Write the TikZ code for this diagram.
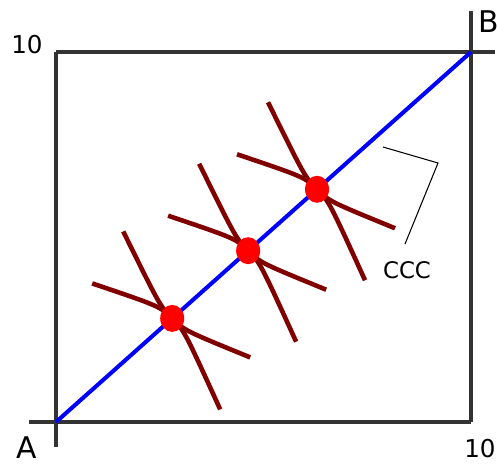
\documentclass[tikz,border=0pt]{standalone}
\usepackage{fontspec}
\setmainfont{DejaVu Sans}
\usetikzlibrary{shapes.geometric,calc}
\definecolor{maroon}{RGB}{128,0,0}

\begin{document}
\begin{tikzpicture}[
    x=0.02cm, y=-0.02cm,
    axis/.style={draw=black!80, line width=2pt},
    contract/.style={draw=blue, line width=2.3pt},
    indiff/.style={draw=maroon, line width=2.6pt},
    dot/.style={ellipse, fill=red, inner sep=0pt, minimum width=0.48cm, minimum height=0.54cm},
    leader/.style={draw=black, line width=0.6pt},
    tick/.style={font=\fontsize{14}{16}\selectfont},
    origin/.style={font=\fontsize{17}{19}\selectfont}
]
  \useasboundingbox (0,0) rectangle (497,464);

  % Origins
  \coordinate (oA) at (56,422);
  \coordinate (oB) at (471,52);

  % Box
  \draw[axis] (29,422) -- (oB |- oA);
  \draw[axis] (56,447) -- (oA |- oB);
  \draw[axis] (oA |- oB) -- (495,52);
  \draw[axis] (471,11) -- (oB |- oA);

  % Labels
  \node[tick] (ten1) at (27,45) {10};
  \node[tick] (ten2) at (480,449) {10};
  \node[origin] (lA) at (27,448) {A};
  \node[origin] (lB) at (489,22) {B};

  % Contract curve
  \draw[contract] (oA) -- (oB);

  % Tangency points
  \foreach \t [count=\i] in {0.28,0.463,0.629}
    \coordinate (c\i) at ($(oA)!\t!(oB)$);

  % Indifference curves
  \foreach \i in {1,2,3} {
    \draw[indiff] ($(c\i)+(-49,-87)$) .. controls ($(c\i)+(-12,-12)$) .. (c\i)
      .. controls ($(c\i)+(12,12)$) .. ($(c\i)+(78,39)$);
    \draw[indiff] ($(c\i)+(-80,-35)$) .. controls ($(c\i)+(-12,-12)$) .. (c\i)
      .. controls ($(c\i)+(12,12)$) .. ($(c\i)+(48,91)$);
    \node[dot] (p\i) at (c\i) {};
  }

  % CCC label
  \node[font=\fontsize{13}{15}\selectfont] (ccc) at (407,270) {CCC};
  \coordinate (l1) at (383,147);
  \coordinate (l2) at (438,163);
  \coordinate (l3) at (405,244);
  \draw[leader] (l1) -- (l2) -- (l3);
\end{tikzpicture}
\end{document}
